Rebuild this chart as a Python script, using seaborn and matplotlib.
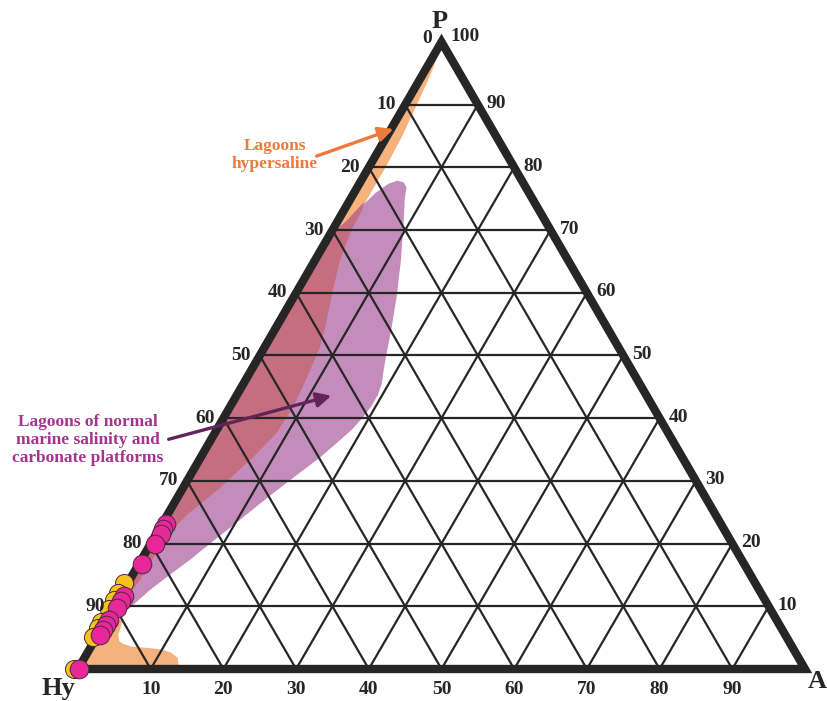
import numpy as np
import pandas as pd
import matplotlib
matplotlib.use("Agg")
import matplotlib.pyplot as plt
import seaborn as sns
from matplotlib.patches import Polygon
from matplotlib.transforms import ScaledTranslation

# ---- compositions (percent) -------------------------------------------------
# sample points: P (apex) and A (right corner); Hy = 100 - P - A
magenta_P = [23.2, 22.3, 21.5, 19.9, 16.7, 11.6, 10.8, 9.8, 7.8, 7.0, 6.2, 5.4, 0.0]
magenta_A = [0.5, 0.6, 0.7, 0.6, 0.4, 0.5, 0.5, 0.5, 0.4, 0.3, 0.3, 0.3, 0.2]
yellow_P = [13.7, 12.2, 11.0, 9.6, 7.5, 6.5, 5.1, 0.0]
yellow_A = [0.0, 0.0, 0.0, 0.0, 0.0, 0.0, 0.0, 0.0]

# field outlines (P, A in percent)
hypersaline_P = [100, 98, 94, 90, 85, 80, 75, 70, 60, 40, 25, 14, 11, 8.4, 7.6, 6.5, 5.5,
                 4.5, 4.0, 3.6, 3.5, 3.3, 3.1, 2.6, 1.8, 0.8, 0.0, 0.0]
hypersaline_A = [0.0, 0.6, 1.2, 1.6, 2.1, 2.3, 2.3, 2.6, 4.0, 6.0, 2.5, 1.3, 1.0, 1.2, 2.3, 2.6, 2.8,
                 3.4, 4.2, 5.5, 6.3, 8.5, 10.0, 11.5, 12.8, 13.4, 14.0, 0.0]

normal_marine_P = [77.4, 77.9, 77.6, 76.8, 75.1, 71.4, 65.0, 59.5, 54.2, 49.4, 47.7, 45.6, 43.7,
                   41.8, 40.0, 38.2, 36.5, 33.7, 30.1, 27.0, 23.8, 20.6, 17.4, 15.0, 12.6,
                   9.65, 8.7, 9.0, 9.5, 69.0, 71.0, 74.0, 76.0]
normal_marine_A = [4.0, 5.0, 6.0, 6.8, 7.4, 9.1, 11.9, 14.1, 16.0, 17.6, 18.2, 19.0, 19.4,
                   19.4, 19.1, 18.6, 17.8, 16.4, 14.1, 12.2, 10.4, 8.5, 6.7, 5.1, 3.6,
                   2.2, 1.4, 0.3, 0.0, 0.0, 1.5, 2.2, 3.0]

overlap_P = [69.0, 71.5, 74.5, 73.0, 70.0, 65.0, 60.6, 55.0, 51.4, 46.1, 41.8, 37.6, 33.8,
             28.9, 24.8, 22.0, 17.7, 14.0, 11.5, 10.5]
overlap_A = [0.0, 1.2, 2.1, 2.5, 2.6, 3.5, 4.8, 6.6, 7.6, 8.3, 8.7, 8.5, 7.2,
             5.1, 2.8, 1.8, 1.5, 1.4, 0.9, 0.0]

tick_values = [10, 20, 30, 40, 50, 60, 70, 80, 90]

ORANGE = "#F6B27D"
PURPLE = "#C48CBB"
RED = "#C46E80"
INK = "#262626"


def tern(P, A):
    """Ternary (P, A in percent) -> cartesian, triangle of width 1 and height 1."""
    P = np.asarray(P, dtype=float) / 100.0
    A = np.asarray(A, dtype=float) / 100.0
    return A + P / 2.0, P


sns.set_style("white")
plt.rcParams["font.family"] = ["Liberation Serif", "DejaVu Serif"]

W, H = 828, 701
fig = plt.figure(figsize=(W / 100, H / 100), dpi=100)
ax = fig.add_axes([0, 0, 1, 1])
X0, Y0, SX, SY = 78, 669, 727, 627


def frame_axes():
    ax.set_xlim(-X0 / SX, (W - X0) / SX)
    ax.set_ylim((Y0 - H) / SY, Y0 / SY)
    ax.set_xlabel("")
    ax.set_ylabel("")
    ax.axis("off")


frame_axes()


def fig_px(x, y):
    return x / W, 1 - y / H


# fields
for P, A, col, z in [(hypersaline_P, hypersaline_A, ORANGE, 1),
                     (normal_marine_P, normal_marine_A, PURPLE, 2),
                     (overlap_P, overlap_A, RED, 3)]:
    x, y = tern(P, A)
    ax.add_patch(Polygon(np.column_stack([x, y]), closed=True, facecolor=col,
                         edgecolor="none", joinstyle="round", zorder=z))

# grid
for f in tick_values:
    for P, A in [([f, f], [0, 100 - f]),      # constant P
                 ([0, 100 - f], [f, f]),      # constant A
                 ([0, f], [f, 0])]:           # constant Hy
        x, y = tern(P, A)
        ax.plot(x, y, color=INK, lw=1.6, zorder=4)

# frame
x, y = tern([100, 0, 0], [0, 0, 100])
ax.add_patch(Polygon(np.column_stack([x, y]), closed=True, fill=False, edgecolor=INK,
                     lw=6, joinstyle="miter", zorder=5))

# samples
xy, yy = tern(yellow_P, yellow_A)
xm, ym = tern(magenta_P, magenta_A)
df_y = pd.DataFrame({"x": xy, "y": yy})
df_m = pd.DataFrame({"x": xm, "y": ym})
shift = ax.transData + ScaledTranslation(-4 / 100, 0, fig.dpi_scale_trans)
sns.scatterplot(data=df_y, x="x", y="y", color="#F7C21E", s=170, edgecolor="#4A2A3A",
                linewidth=0.7, zorder=6, ax=ax, legend=False, transform=shift, clip_on=False)
sns.scatterplot(data=df_m, x="x", y="y", color="#E8289A", s=180, edgecolor="#4A2A3A",
                linewidth=0.7, zorder=7, ax=ax, legend=False, clip_on=False)
frame_axes()

# tick labels
tk = dict(fontsize=14, fontweight="bold", color=INK, textcoords="offset pixels", zorder=8)
for v in [0] + tick_values:           # Hy along the left edge
    x, y = tern(100 - v, 0)
    ax.annotate(str(v), (x, y), xytext=(-9, 3 if v == 0 else 0), ha="right", va="center", **tk)
for v in tick_values + [100]:         # P along the right edge
    x, y = tern(v, 100 - v)
    ax.annotate(str(v), (x, y), xytext=(9, 5 if v == 100 else 1), ha="left", va="center", **tk)
for v in tick_values:                 # A along the base
    x, y = tern(0, v)
    ax.annotate(str(v), (x, y), xytext=(0, -21), ha="center", va="center", **tk)

# corner names
fig.text(*fig_px(440, 21), "P", fontsize=19, fontweight="bold", color=INK, ha="center", va="center")
fig.text(*fig_px(58, 688), "Hy", fontsize=19, fontweight="bold", color=INK, ha="center", va="center")
fig.text(*fig_px(808, 681), "A", fontsize=19, fontweight="bold", color=INK, ha="left", va="center")

# field names with arrows
fig.text(*fig_px(275, 155), "Lagoons\nhypersaline", fontsize=12.5, fontweight="bold",
         color="#EB7A3C", ha="center", va="center", linespacing=1.15)
ax.annotate("", xy=fig_px(396, 128), xytext=fig_px(314, 157),
            xycoords="figure fraction", textcoords="figure fraction",
            arrowprops=dict(arrowstyle="-|>", color="#EB7A3C", lw=2.4, mutation_scale=22),
            zorder=9)

fig.text(*fig_px(88, 440), "Lagoons of normal\nmarine salinity and\ncarbonate platforms",
         fontsize=12.5, fontweight="bold", color="#A5338F", ha="center", va="center",
         linespacing=1.15)
ax.annotate("", xy=fig_px(334, 395), xytext=fig_px(166, 440),
            xycoords="figure fraction", textcoords="figure fraction",
            arrowprops=dict(arrowstyle="-|>", color="#64235A", lw=2.4, mutation_scale=22),
            zorder=9)

fig.savefig("out.png", dpi=100)
